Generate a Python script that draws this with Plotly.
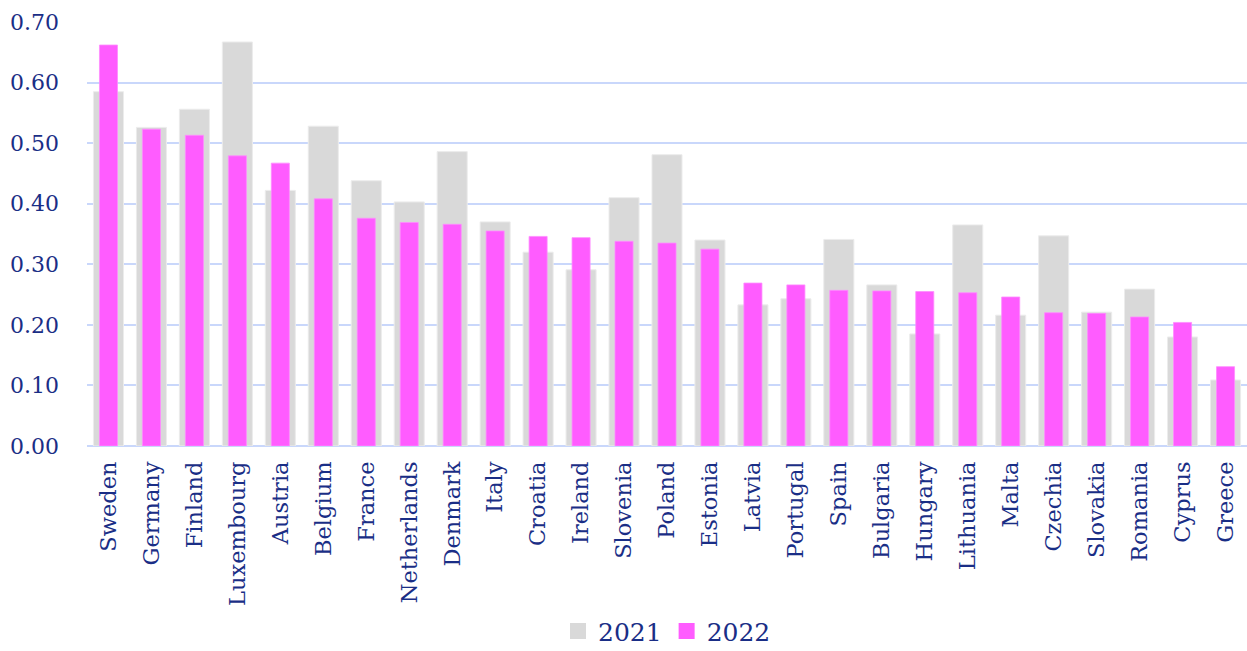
import plotly.graph_objects as go

countries = ["Sweden", "Germany", "Finland", "Luxembourg", "Austria", "Belgium", "France",
             "Netherlands", "Denmark", "Italy", "Croatia", "Ireland", "Slovenia", "Poland",
             "Estonia", "Latvia", "Portugal", "Spain", "Bulgaria", "Hungary", "Lithuania",
             "Malta", "Czechia", "Slovakia", "Romania", "Cyprus", "Greece"]

values_2021 = [0.585, 0.526, 0.556, 0.667, 0.422, 0.528, 0.438, 0.403, 0.486, 0.370,
               0.320, 0.291, 0.410, 0.481, 0.340, 0.233, 0.243, 0.341, 0.266, 0.185,
               0.365, 0.216, 0.347, 0.221, 0.259, 0.180, 0.109]

values_2022 = [0.662, 0.523, 0.513, 0.479, 0.467, 0.408, 0.376, 0.369, 0.366, 0.355,
               0.346, 0.344, 0.338, 0.335, 0.325, 0.269, 0.266, 0.257, 0.256, 0.255,
               0.253, 0.246, 0.220, 0.219, 0.213, 0.204, 0.131]

y_ticks = [0.0, 0.1, 0.2, 0.3, 0.4, 0.5, 0.6, 0.7]

GREY = "#d9d9d9"
MAGENTA = "#ff5cff"
NAVY = "#1a2e86"
GRID = "#c9d7fb"
FONT = "DejaVu Serif"

fig = go.Figure()
fig.add_trace(go.Bar(
    x=countries, y=values_2021, name="2021", width=0.70, showlegend=False,
    marker=dict(color=GREY, line=dict(color="#ececec", width=1)),
))
fig.add_trace(go.Bar(
    x=countries, y=values_2022, name="2022", width=0.42, showlegend=False,
    marker=dict(color=MAGENTA, line=dict(color="#ff8cff", width=0.8)),
))

# legend entries with larger square swatches
for name, colour in (("2021", GREY), ("2022", MAGENTA)):
    fig.add_trace(go.Scatter(
        x=[None], y=[None], mode="markers", name=name,
        marker=dict(symbol="square", size=20, color=colour),
    ))

fig.update_layout(
    barmode="overlay",
    width=1247, height=651,
    margin=dict(l=87, r=0, t=22, b=205, autoexpand=False),
    plot_bgcolor="white", paper_bgcolor="white",
    font=dict(family=FONT, color=NAVY, size=21),
    showlegend=True,
    legend=dict(
        orientation="h", x=0.5, xanchor="center", y=-0.437, yanchor="middle",
        font=dict(size=25, color=NAVY), itemsizing="trace",
        itemwidth=30, tracegroupgap=0,
    ),
    xaxis=dict(
        tickangle=-90, showgrid=False, showline=False, ticks="",
        tickfont=dict(size=22.5, color=NAVY), ticklabelstandoff=10,
        automargin=False,
    ),
    yaxis=dict(
        range=[0, 0.7], tickvals=y_ticks, tickformat=".2f",
        showgrid=True, gridcolor=GRID, gridwidth=1.5,
        zeroline=True, zerolinecolor=GRID, zerolinewidth=1.5,
        showline=False, ticks="", ticklabelstandoff=27,
        tickfont=dict(size=22, color=NAVY), automargin=False,
    ),
)

fig.write_html("out.html")
